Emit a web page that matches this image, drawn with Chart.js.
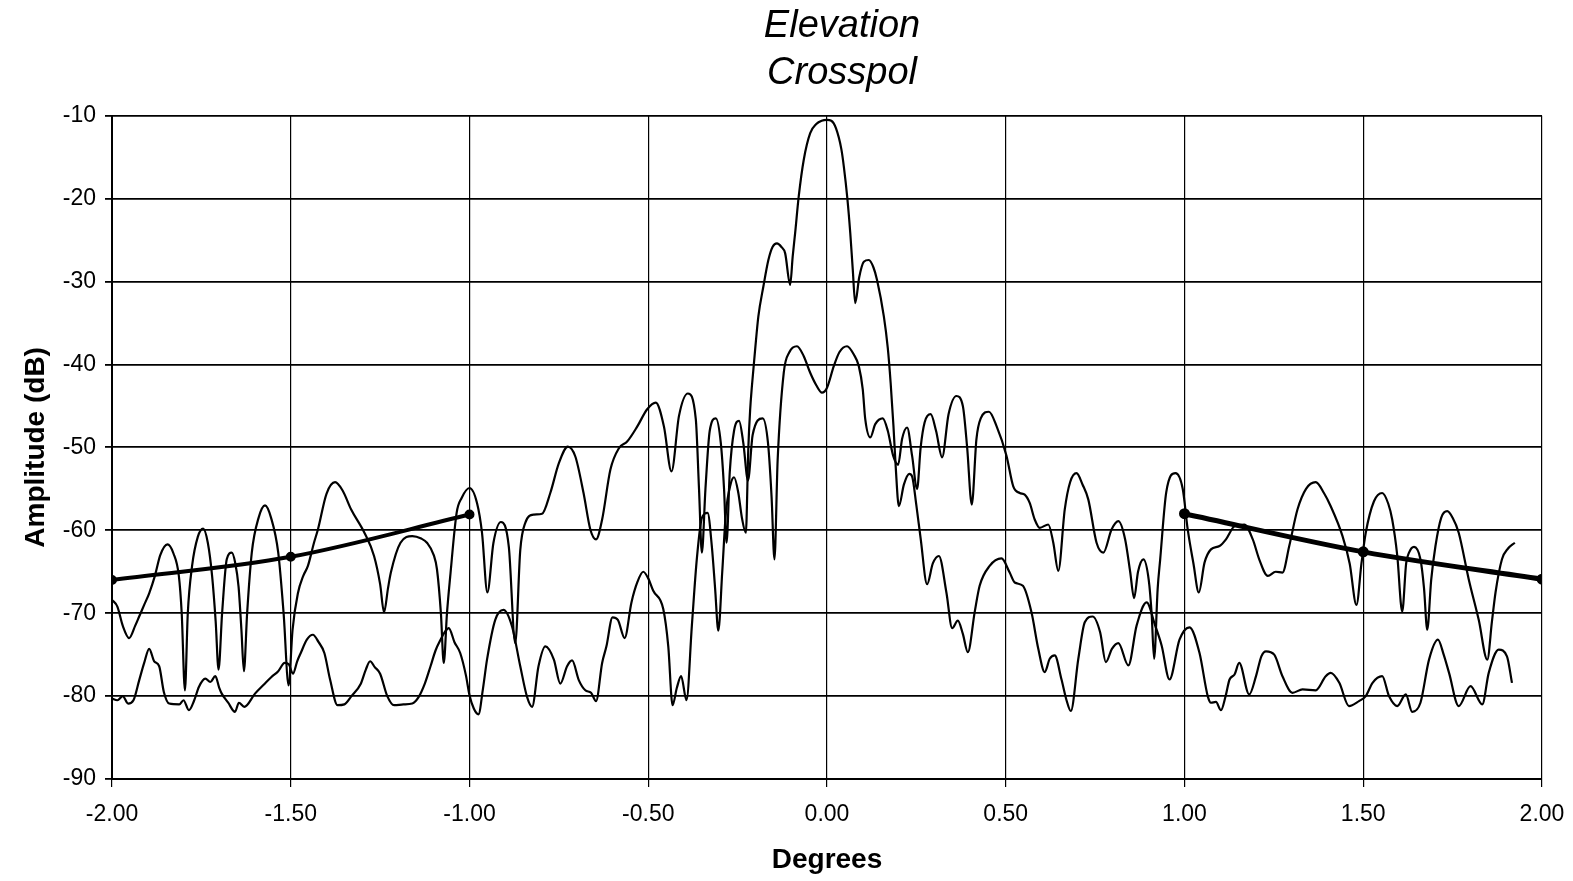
<!DOCTYPE html>
<html lang="en">
<head>
    <meta charset="UTF-8">
    <title>Elevation Crosspol</title>
    <script src="https://cdn.jsdelivr.net/npm/chart.js"></script>
    <style>
        body {
            margin: 0;
            background-color: #ffffff;
        }
        canvas {
            display: block;
        }
    </style>
</head>
<body>
    <canvas id="crosspolChart" width="1573" height="881"></canvas>

    <script>
        // axis ticks
        const xTickValues = [-2, -1.5, -1, -0.5, 0, 0.5, 1, 1.5, 2];
        const yTickValues = [-90, -80, -70, -60, -50, -40, -30, -20, -10];

        // trace A: upper on the sides, double hump in the middle
        const upperDeg = [
            -2.000, -1.985, -1.970, -1.952, -1.935, -1.924, -1.910, -1.896, -1.880, -1.865,
            -1.845, -1.828, -1.813, -1.805, -1.796, -1.788, -1.776, -1.760, -1.745, -1.732,
            -1.720, -1.710, -1.702, -1.692, -1.679, -1.665, -1.655, -1.646, -1.638, -1.631,
            -1.622, -1.609, -1.590, -1.572, -1.555, -1.535, -1.520, -1.506, -1.495, -1.480,
            -1.465, -1.452, -1.435, -1.424, -1.400, -1.376, -1.355, -1.331, -1.294, -1.267,
            -1.250, -1.239, -1.228, -1.220, -1.193, -1.160, -1.135, -1.119, -1.100, -1.091,
            -1.080, -1.072, -1.063, -1.054, -1.036, -1.022, -1.000, -0.979, -0.965, -0.950,
            -0.933, -0.912, -0.890, -0.872, -0.858, -0.844, -0.820, -0.797, -0.774, -0.750,
            -0.725, -0.704, -0.681, -0.662, -0.646, -0.629, -0.606, -0.582, -0.559, -0.531,
            -0.503, -0.479, -0.456, -0.435, -0.414, -0.389, -0.367, -0.358, -0.350, -0.340,
            -0.328, -0.311, -0.297, -0.288, -0.281, -0.272, -0.260, -0.246, -0.234, -0.221,
            -0.208, -0.180, -0.165, -0.155, -0.147, -0.138, -0.121, -0.105, -0.084, -0.065,
            -0.047, -0.030, -0.014, 0.000, 0.019, 0.035, 0.056, 0.075, 0.089, 0.100,
            0.107, 0.121, 0.135, 0.156, 0.170, 0.185, 0.199, 0.210, 0.224, 0.238,
            0.252, 0.262, 0.273, 0.290, 0.305, 0.322, 0.340, 0.362, 0.380, 0.392,
            0.405, 0.418, 0.430, 0.453, 0.474, 0.502, 0.521, 0.539, 0.553, 0.567,
            0.581, 0.595, 0.619, 0.633, 0.647, 0.665, 0.680, 0.698, 0.715, 0.731,
            0.754, 0.773, 0.796, 0.815, 0.834, 0.848, 0.859, 0.870, 0.885, 0.900,
            0.908, 0.915, 0.925, 0.932, 0.949, 0.975, 0.995, 1.009, 1.025, 1.040,
            1.056, 1.074, 1.098, 1.116, 1.140, 1.167, 1.191, 1.209, 1.233, 1.255,
            1.274, 1.293, 1.316, 1.340, 1.367, 1.390, 1.409, 1.442, 1.462, 1.481,
            1.495, 1.507, 1.530, 1.553, 1.570, 1.581, 1.595, 1.609, 1.620, 1.628,
            1.642, 1.660, 1.670, 1.679, 1.690, 1.702, 1.718, 1.735, 1.750, 1.767,
            1.795, 1.823, 1.847, 1.860, 1.870, 1.888, 1.905, 1.924
        ];
        const upperDb = [
            -68.4, -69.2, -71.5, -73.0, -71.5, -70.4, -69.0, -67.6, -65.5, -63.0,
            -61.7, -62.8, -65.5, -70.0, -79.3, -70.0, -64.3, -60.8, -59.8, -61.5,
            -65.5, -71.0, -76.8, -70.0, -63.5, -62.7, -64.0, -66.8, -72.0, -77.0,
            -70.0, -62.7, -58.5, -57.0, -58.5, -62.7, -70.0, -78.7, -72.0, -67.6,
            -65.5, -64.3, -61.5, -59.9, -55.6, -54.2, -55.2, -57.5, -60.3, -63.1,
            -66.5, -69.9, -67.0, -65.1, -61.5, -60.7, -61.0, -61.5, -63.0, -64.7,
            -70.0, -76.0, -70.0, -65.6, -57.9, -56.1, -54.9, -56.7, -60.3, -67.5,
            -61.5, -59.0, -62.0, -73.6, -62.4, -59.1, -58.1, -58.0, -55.5, -51.9,
            -49.9, -51.1, -55.5, -59.9, -61.1, -58.7, -52.7, -50.1, -49.3, -47.5,
            -45.4, -44.6, -47.5, -52.9, -46.2, -43.5, -46.6, -55.0, -62.7, -55.0,
            -48.0, -46.5, -49.5, -55.0, -61.5, -53.0, -48.0, -46.8, -49.5, -54.0,
            -48.5, -46.5, -49.5, -56.0, -63.5, -51.5, -41.0, -38.5, -37.8, -39.0,
            -41.0, -42.5, -43.4, -42.8, -40.2, -38.5, -37.8, -38.8, -40.2, -43.0,
            -46.6, -48.8, -47.2, -46.5, -48.0, -51.0, -52.1, -49.0, -47.6, -51.0,
            -55.0, -50.0, -47.0, -46.0, -48.0, -51.2, -46.0, -43.8, -45.0, -50.0,
            -56.9, -49.0, -46.5, -45.7, -47.4, -51.0, -54.7, -55.5, -55.7, -56.7,
            -58.7, -59.7, -59.3, -61.5, -64.9, -57.5, -54.2, -53.1, -54.5, -56.3,
            -61.5, -62.7, -59.9, -58.9, -61.1, -65.0, -68.2, -65.0, -63.5, -66.0,
            -70.0, -75.5, -67.0, -63.5, -55.4, -53.1, -55.0, -59.9, -64.0, -67.5,
            -63.9, -62.3, -61.9, -61.1, -59.5, -59.3, -61.1, -63.5, -65.5, -65.0,
            -65.1, -61.9, -57.5, -55.0, -54.2, -55.5, -57.1, -60.7, -64.0, -69.0,
            -64.0, -60.3, -56.5, -55.5, -56.8, -58.7, -63.0, -69.8, -64.0, -62.7,
            -62.0, -63.5, -67.0, -72.0, -66.0, -61.9, -58.5, -57.7, -58.5, -60.3,
            -65.9, -70.8, -75.6, -71.0, -67.5, -63.5, -62.2, -61.5
        ];

        // trace B: lower on the sides, main lobe in the middle
        const lowerDeg = [
            -2.000, -1.985, -1.970, -1.955, -1.940, -1.924, -1.910, -1.896, -1.882, -1.868,
            -1.855, -1.840, -1.812, -1.800, -1.785, -1.770, -1.757, -1.739, -1.725, -1.711,
            -1.700, -1.693, -1.675, -1.656, -1.645, -1.630, -1.600, -1.575, -1.554, -1.535,
            -1.517, -1.505, -1.494, -1.482, -1.472, -1.455, -1.438, -1.422, -1.406, -1.390,
            -1.369, -1.350, -1.330, -1.304, -1.290, -1.278, -1.265, -1.250, -1.230, -1.211,
            -1.185, -1.160, -1.142, -1.125, -1.109, -1.095, -1.081, -1.068, -1.058, -1.042,
            -1.026, -1.010, -1.000, -0.988, -0.975, -0.962, -0.951, -0.928, -0.905, -0.881,
            -0.858, -0.839, -0.825, -0.807, -0.788, -0.764, -0.746, -0.727, -0.713, -0.694,
            -0.676, -0.660, -0.646, -0.629, -0.617, -0.600, -0.585, -0.566, -0.547, -0.530,
            -0.514, -0.500, -0.486, -0.458, -0.444, -0.432, -0.420, -0.408, -0.393, -0.378,
            -0.364, -0.350, -0.334, -0.322, -0.313, -0.304, -0.293, -0.283, -0.270, -0.260,
            -0.248, -0.238, -0.227, -0.220, -0.215, -0.210, -0.201, -0.192, -0.178, -0.164,
            -0.152, -0.140, -0.128, -0.117, -0.103, -0.096, -0.089, -0.079, -0.065, -0.047,
            -0.030, -0.015, 0.000, 0.012, 0.025, 0.040, 0.047, 0.057, 0.065, 0.072,
            0.079, 0.090, 0.103, 0.117, 0.130, 0.140, 0.159, 0.170, 0.178, 0.186,
            0.192, 0.201, 0.215, 0.230, 0.238, 0.250, 0.262, 0.280, 0.296, 0.313,
            0.334, 0.350, 0.366, 0.380, 0.394, 0.413, 0.427, 0.455, 0.488, 0.511,
            0.525, 0.548, 0.572, 0.591, 0.609, 0.623, 0.637, 0.656, 0.670, 0.682,
            0.703, 0.721, 0.743, 0.764, 0.780, 0.797, 0.815, 0.843, 0.866, 0.894,
            0.918, 0.936, 0.958, 0.986, 1.014, 1.042, 1.065, 1.074, 1.088, 1.102,
            1.115, 1.126, 1.140, 1.153, 1.181, 1.200, 1.215, 1.228, 1.251, 1.274,
            1.302, 1.330, 1.367, 1.395, 1.409, 1.433, 1.460, 1.488, 1.507, 1.526,
            1.553, 1.572, 1.595, 1.619, 1.637, 1.660, 1.684, 1.709, 1.725, 1.740,
            1.767, 1.800, 1.833, 1.851, 1.879, 1.902, 1.916
        ];
        const lowerDb = [
            -80.3, -80.5, -80.0, -80.9, -80.5, -78.1, -76.0, -74.3, -75.8, -76.4,
            -79.5, -80.9, -81.0, -80.5, -81.7, -80.5, -78.9, -77.9, -78.3, -77.6,
            -79.0, -79.7, -80.8, -81.9, -80.8, -81.3, -79.7, -78.6, -77.7, -77.0,
            -76.0, -76.2, -77.3, -75.8, -74.8, -73.2, -72.6, -73.5, -74.8, -78.0,
            -81.1, -81.0, -80.0, -78.5, -76.8, -75.8, -76.5, -77.3, -80.0, -81.1,
            -81.0, -80.9, -80.1, -78.5, -76.4, -74.5, -73.2, -72.2, -71.8, -73.5,
            -74.8, -77.5, -79.9, -81.5, -82.2, -79.0, -75.6, -70.8, -69.6, -71.6,
            -76.4, -80.1, -81.3, -76.4, -74.0, -75.6, -78.5, -76.4, -75.7, -78.1,
            -79.3, -79.6, -80.6, -76.0, -74.0, -70.5, -70.8, -73.0, -68.7, -66.2,
            -65.0, -65.8, -67.3, -69.5, -74.0, -81.1, -79.0, -77.6, -80.5, -71.5,
            -63.4, -58.5, -57.9, -62.0, -67.0, -72.1, -65.0, -58.0, -54.5, -53.6,
            -55.5, -58.5, -60.3, -50.0, -45.5, -42.6, -38.2, -34.2, -30.6, -27.4,
            -25.8, -25.4, -25.8, -26.6, -30.4, -27.0, -24.1, -19.7, -15.3, -12.1,
            -11.0, -10.6, -10.5, -10.6, -11.5, -14.0, -16.1, -20.0, -24.1, -28.5,
            -32.6, -29.5, -27.6, -27.4, -28.3, -29.8, -34.2, -38.0, -42.2, -47.5,
            -52.2, -57.1, -54.5, -53.2, -53.5, -57.0, -61.0, -66.5, -64.0, -63.1,
            -67.5, -71.8, -70.9, -72.5, -74.7, -69.9, -66.7, -64.3, -63.4, -65.1,
            -66.3, -66.7, -69.9, -74.3, -77.1, -75.5, -75.1, -78.0, -80.5, -81.8,
            -75.5, -71.1, -70.4, -72.3, -75.9, -74.3, -73.6, -76.3, -71.5, -68.7,
            -71.5, -73.9, -78.0, -73.2, -71.7, -74.8, -80.0, -80.8, -80.7, -81.7,
            -80.0, -78.0, -77.4, -76.0, -79.8, -77.6, -75.2, -74.6, -75.0, -77.6,
            -79.6, -79.2, -79.3, -77.6, -77.2, -78.4, -81.2, -80.6, -80.0, -78.4,
            -77.6, -80.0, -81.2, -79.8, -81.9, -80.8, -75.6, -73.2, -75.0, -77.2,
            -81.2, -78.8, -81.0, -77.2, -74.4, -75.2, -78.4
        ];

        // thick sidelobe envelope, left and right
        const envLeftDeg = [-2.0, -1.5, -1.0];
        const envLeftDb = [-66.0, -63.2, -58.1];
        const envRightDeg = [1.0, 1.5, 2.0];
        const envRightDb = [-58.0, -62.6, -65.9];

        function toPoints(xs, ys) {
            return xs.map((x, i) => ({ x: x, y: ys[i] }));
        }

        const FONT = "'Liberation Sans', Arial, sans-serif";

        // the title in the scan sits over the middle of the plot, not the canvas
        const titleShift = {
            id: 'titleShift',
            afterLayout(chart) {
                const t = chart.titleBlock;
                if (!t) return;
                const shift = 71;
                t.left += shift;
                t.right += shift;
            }
        };

        const ctx = document.getElementById('crosspolChart').getContext('2d');
        const chart = new Chart(ctx, {
            type: 'line',
            data: {
                datasets: [
                    {
                        label: 'Trace A',
                        data: toPoints(upperDeg, upperDb),
                        borderColor: '#000000',
                        borderWidth: 2.2,
                        pointRadius: 0,
                        cubicInterpolationMode: 'monotone'
                    },
                    {
                        label: 'Trace B',
                        data: toPoints(lowerDeg, lowerDb),
                        borderColor: '#000000',
                        borderWidth: 2.2,
                        pointRadius: 0,
                        cubicInterpolationMode: 'monotone'
                    },
                    {
                        label: 'Envelope left',
                        data: toPoints(envLeftDeg, envLeftDb),
                        borderColor: '#000000',
                        backgroundColor: '#000000',
                        borderWidth: 4,
                        pointRadius: 3,
                        cubicInterpolationMode: 'monotone'
                    },
                    {
                        label: 'Envelope right',
                        data: toPoints(envRightDeg, envRightDb),
                        borderColor: '#000000',
                        backgroundColor: '#000000',
                        borderWidth: 5,
                        pointRadius: 3,
                        cubicInterpolationMode: 'monotone'
                    }
                ]
            },
            options: {
                responsive: false,
                animation: false,
                layout: {
                    padding: { left: 0, right: 31, top: 0, bottom: 0 }
                },
                plugins: {
                    legend: { display: false },
                    tooltip: { enabled: false },
                    title: {
                        display: true,
                        text: ['Elevation', 'Crosspol'],
                        color: '#000000',
                        font: { family: FONT, size: 38, style: 'italic', weight: 'normal', lineHeight: 1.26 },
                        padding: { top: 2, bottom: 18 }
                    }
                },
                scales: {
                    x: {
                        type: 'linear',
                        min: -2,
                        max: 2,
                        afterBuildTicks: (scale) => {
                            scale.ticks = xTickValues.map(v => ({ value: v }));
                        },
                        afterFit: (scale) => {
                            scale.height = 102;
                            // let the layout padding alone decide the plot edges
                            scale.paddingLeft = 0;
                            scale.paddingRight = 0;
                        },
                        ticks: {
                            color: '#000000',
                            font: { family: FONT, size: 23 },
                            padding: 14,
                            maxRotation: 0,
                            callback: (v) => Number(v).toFixed(2)
                        },
                        grid: {
                            color: '#000000',
                            lineWidth: 1.2,
                            tickLength: 8
                        },
                        border: { color: '#000000', width: 2 },
                        title: {
                            display: true,
                            text: 'Degrees',
                            color: '#000000',
                            font: { family: FONT, size: 28, weight: 'bold' },
                            padding: { top: 0, bottom: 4 }
                        }
                    },
                    y: {
                        min: -90,
                        max: -10,
                        afterBuildTicks: (scale) => {
                            scale.ticks = yTickValues.map(v => ({ value: v }));
                        },
                        afterFit: (scale) => {
                            scale.width = 112;
                        },
                        ticks: {
                            color: '#000000',
                            font: { family: FONT, size: 23 },
                            padding: 9
                        },
                        grid: {
                            color: '#000000',
                            lineWidth: 1.8,
                            tickLength: 7
                        },
                        border: { color: '#000000', width: 2 },
                        title: {
                            display: true,
                            text: 'Amplitude (dB)',
                            color: '#000000',
                            font: { family: FONT, size: 28, weight: 'bold' },
                            padding: { top: 19, bottom: 0 }
                        }
                    }
                }
            },
            plugins: [titleShift]
        });
    </script>
</body>
</html>
